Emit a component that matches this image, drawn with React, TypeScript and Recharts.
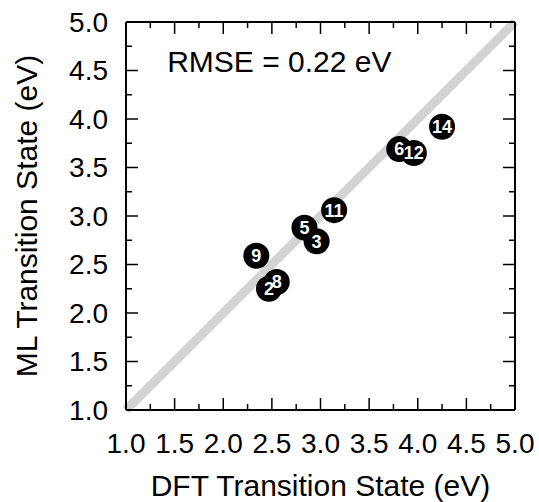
import React from "react"
import {
    LabelList,
    ReferenceDot,
    ReferenceLine,
    Scatter,
    ScatterChart,
    XAxis,
    YAxis,
} from "recharts"

// barrier ids and energies (eV)
const ids = [2, 3, 5, 6, 8, 9, 11, 12, 14]
const dftTS = [2.47, 2.96, 2.835, 3.81, 2.55, 2.34, 3.14, 3.96, 4.25]
const mlTS = [2.25, 2.74, 2.88, 3.69, 2.32, 2.59, 3.06, 3.65, 3.92]

const majorTicks = [1.0, 1.5, 2.0, 2.5, 3.0, 3.5, 4.0, 4.5, 5.0]
const allTicks = [1.0, 1.25, 1.5, 1.75, 2.0, 2.25, 2.5, 2.75, 3.0, 3.25, 3.5, 3.75, 4.0, 4.25, 4.5, 4.75, 5.0]
const domain: [number, number] = [1, 5]
const parity = [
    { x: 1, y: 1 },
    { x: 5, y: 5 },
]
const rmseText = "RMSE = 0.22 eV"
const rmsePos = { x: 1.423, y: 4.488 }

const points = ids.map((id, i) => ({ id, dft: dftTS[i], ml: mlTS[i] }))

const FONT = "'Liberation Sans', Arial, Helvetica, sans-serif"

// layout
const W = 539
const H = 502
const M_TOP = 22
const M_RIGHT = 24
const X_AXIS_H = 92
const Y_AXIS_W = 126
const PLOT_W = W - M_RIGHT - Y_AXIS_W
const PLOT_H = H - M_TOP - X_AXIS_H
const X_GAP = 23
const Y_GAP = 18
const MAJOR = 12
const MINOR = 6

const isMajor = (v: number) => majorTicks.includes(v)

// bottom axis tick: label + inward ticks on bottom and top edge
const BottomTick = (props: any) => {
    const { x, y, payload } = props
    const v = payload.value
    const len = isMajor(v) ? MAJOR : MINOR
    const y0 = y - X_GAP
    return (
        <g>
            <line x1={x} x2={x} y1={y0} y2={y0 - len} stroke="#000" strokeWidth={1.5} />
            <line x1={x} x2={x} y1={y0 - PLOT_H} y2={y0 - PLOT_H + len} stroke="#000" strokeWidth={1.5} />
            {isMajor(v) && (
                <text x={x} y={y} dy="0.71em" textAnchor="middle" fontSize={28} fill="#000">
                    {v.toFixed(1)}
                </text>
            )}
        </g>
    )
}

// left axis tick: label + inward ticks on left and right edge
const LeftTick = (props: any) => {
    const { x, y, payload } = props
    const v = payload.value
    const len = isMajor(v) ? MAJOR : MINOR
    const x0 = x + Y_GAP
    return (
        <g>
            <line x1={x0} x2={x0 + len} y1={y} y2={y} stroke="#000" strokeWidth={1.5} />
            <line x1={x0 + PLOT_W} x2={x0 + PLOT_W - len} y1={y} y2={y} stroke="#000" strokeWidth={1.5} />
            {isMajor(v) && (
                <text x={x} y={y} dy="0.355em" textAnchor="end" fontSize={28} fill="#000">
                    {v.toFixed(1)}
                </text>
            )}
        </g>
    )
}

const Dot = (props: any) => <circle cx={props.cx} cy={props.cy} r={13} fill="#000" />

export default function App() {
    const frame = { stroke: "#000", strokeWidth: 2 }
    return (
        <div style={{ position: "absolute", left: 0, top: 0, fontFamily: FONT, background: "#fff" }}>
            <ScatterChart width={W} height={H} margin={{ top: M_TOP, right: M_RIGHT, bottom: 0, left: 0 }}>
                <XAxis
                    type="number"
                    dataKey="dft"
                    domain={domain}
                    ticks={allTicks}
                    interval={0}
                    allowDataOverflow
                    height={X_AXIS_H}
                    tickLine={false}
                    tickSize={0}
                    tickMargin={X_GAP}
                    axisLine={frame}
                    tick={<BottomTick />}
                    label={{ value: "DFT Transition State (eV)", position: "insideBottom", offset: 6, fill: "#000", fontSize: 30 }}
                />
                <YAxis
                    type="number"
                    dataKey="ml"
                    domain={domain}
                    ticks={allTicks}
                    interval={0}
                    allowDataOverflow
                    width={Y_AXIS_W}
                    tickLine={false}
                    tickSize={0}
                    tickMargin={Y_GAP}
                    axisLine={frame}
                    tick={<LeftTick />}
                    label={{ value: "ML Transition State (eV)", position: "center", angle: -90, dx: -37, fill: "#000", fontSize: 30 }}
                />
                <ReferenceLine
                    segment={parity}
                    stroke="#d3d3d3"
                    strokeWidth={9}
                    ifOverflow="visible"
                />
                {/* top and right frame */}
                <ReferenceLine y={5} stroke="#000" strokeWidth={2} ifOverflow="visible" />
                <ReferenceLine x={5} stroke="#000" strokeWidth={2} ifOverflow="visible" />

                <ReferenceDot
                    x={rmsePos.x}
                    y={rmsePos.y}
                    r={0}
                    fill="none"
                    stroke="none"
                    ifOverflow="visible"
                    label={{
                        content: ({ viewBox }: any) => (
                            <text x={viewBox.x} y={viewBox.y} fontSize={30} fill="#000" fontFamily={FONT}>
                                {rmseText}
                            </text>
                        ),
                    }}
                />
                <Scatter data={points} shape={Dot} isAnimationActive={false}>
                    <LabelList
                        dataKey="id"
                        position="center"
                        fill="#fff"
                        fontSize={18}
                        fontWeight="bold"
                    />
                </Scatter>
            </ScatterChart>
        </div>
    )
}
